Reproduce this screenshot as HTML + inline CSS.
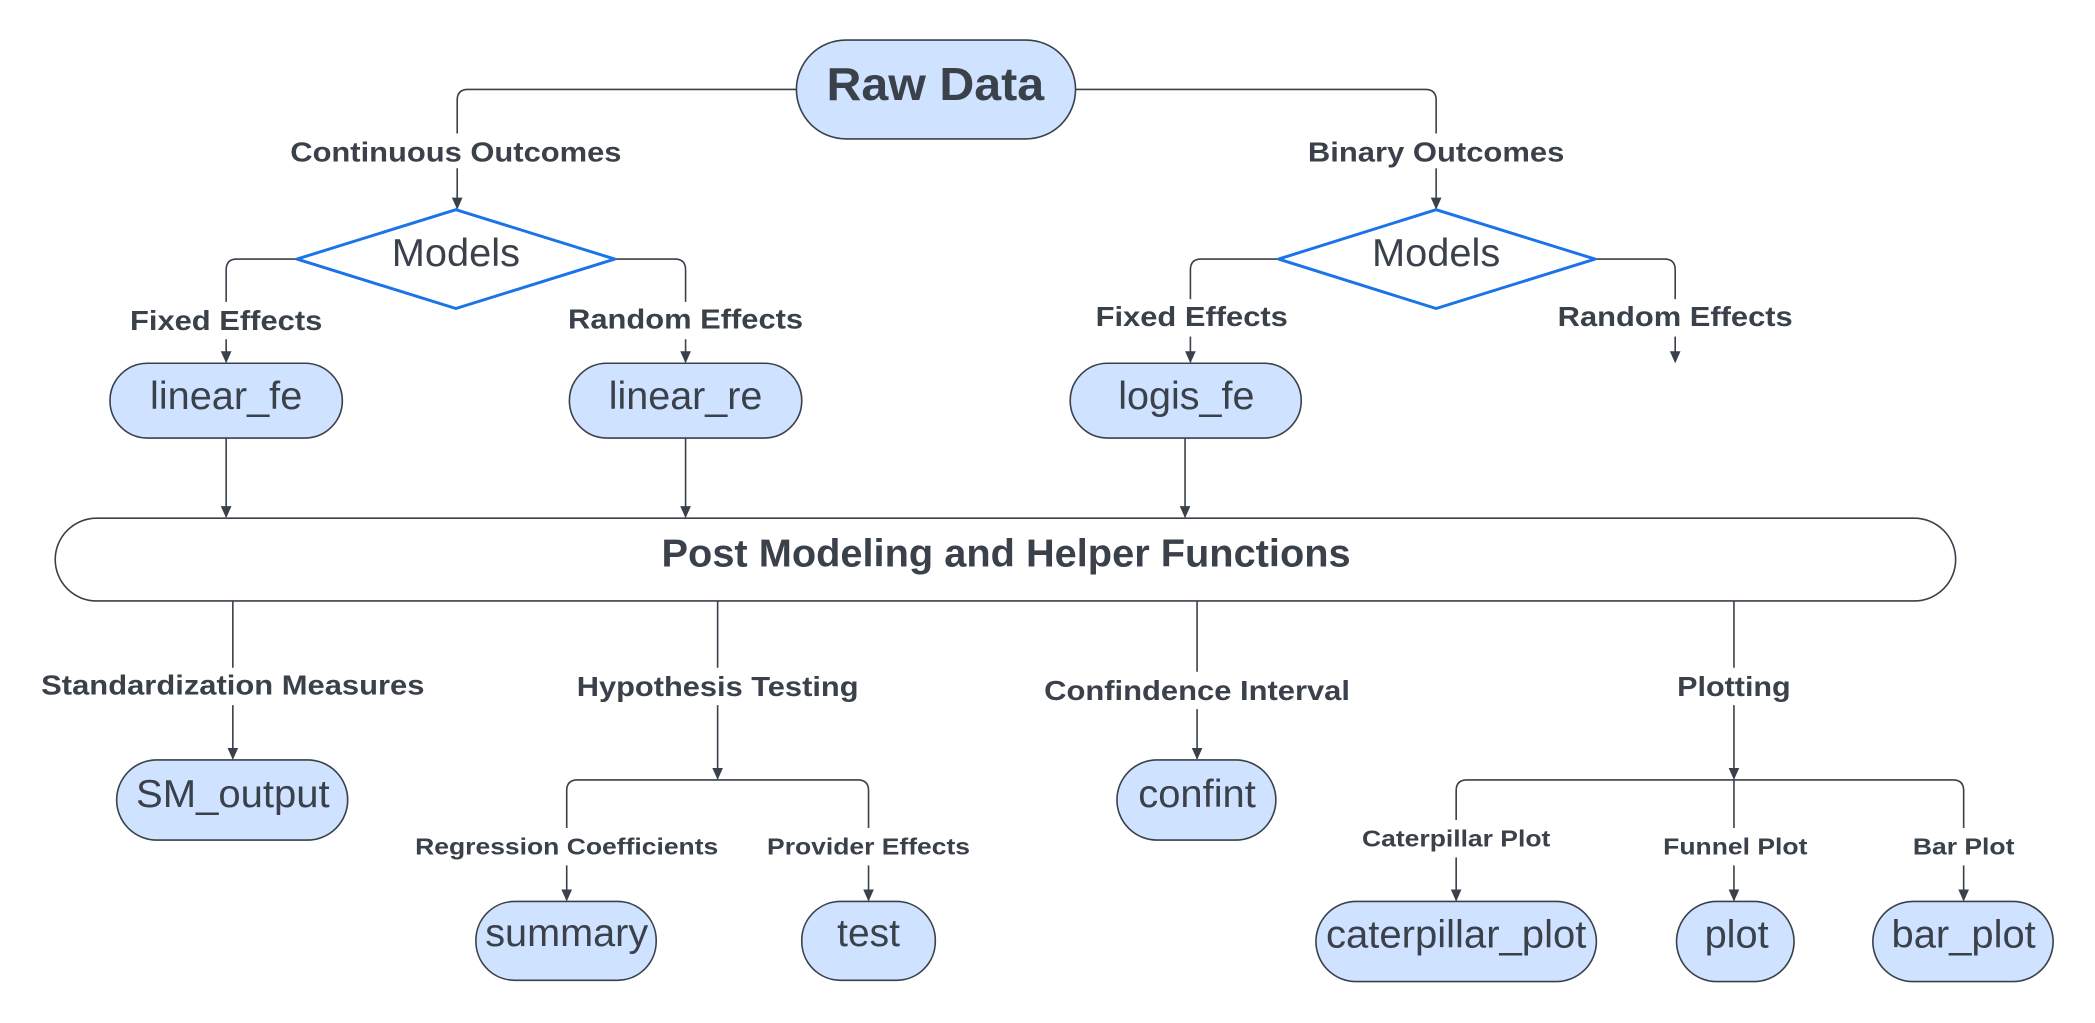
<!DOCTYPE html>
<html><head><meta charset="utf-8"><style>
html,body{margin:0;padding:0;background:#fff;}
svg{display:block}
text{font-family:"Liberation Sans",sans-serif;fill:#3a414a;text-anchor:middle;dominant-baseline:central}
.b{font-weight:bold}
</style></head><body>
<svg width="2095" height="1023" viewBox="0 0 1568 766" xmlns="http://www.w3.org/2000/svg">
<defs><marker id="a" markerWidth="10" markerHeight="10" refX="8" refY="5" orient="auto" markerUnits="userSpaceOnUse"><path d="M0,1 L9,5 L0,9 z" fill="#3a414a"/></marker></defs>
<g fill="none" stroke="#3a414a" stroke-width="1.2">
<path d="M596,67 H350 Q342,67 342,75 V100"/>
<path d="M342,126 V156" marker-end="url(#a)"/>
<path d="M805,67 H1067 Q1075,67 1075,75 V100"/>
<path d="M1075,126 V156" marker-end="url(#a)"/>
<path d="M222,194 H177 Q169,194 169,202 V226"/>
<path d="M169,254 V271" marker-end="url(#a)"/>
<path d="M460,194 H505 Q513,194 513,202 V226"/>
<path d="M513,254 V271" marker-end="url(#a)"/>
<path d="M957,194 H899 Q891,194 891,202 V224"/>
<path d="M891,252 V271" marker-end="url(#a)"/>
<path d="M1194,194 H1246 Q1254,194 1254,202 V224"/>
<path d="M1254,252 V271" marker-end="url(#a)"/>
<path d="M169,328 V387" marker-end="url(#a)"/>
<path d="M513,328 V387" marker-end="url(#a)"/>
<path d="M887,328 V387" marker-end="url(#a)"/>
<path d="M174,450 V500"/><path d="M174,528 V568" marker-end="url(#a)"/>
<path d="M537,450 V500"/><path d="M537,528 V583" marker-end="url(#a)"/>
<path d="M424,620 V592 Q424,584 432,584 H642 Q650,584 650,592 V620"/>
<path d="M424,648 V674" marker-end="url(#a)"/>
<path d="M650,648 V674" marker-end="url(#a)"/>
<path d="M896,450 V503"/><path d="M896,531 V568" marker-end="url(#a)"/>
<path d="M1298,450 V500"/><path d="M1298,528 V583" marker-end="url(#a)"/>
<path d="M1090,614 V592 Q1090,584 1098,584 H1462 Q1470,584 1470,592 V620"/>
<path d="M1298,584 V620"/>
<path d="M1090,642 V674" marker-end="url(#a)"/>
<path d="M1298,648 V674" marker-end="url(#a)"/>
<path d="M1470,648 V674" marker-end="url(#a)"/>
</g>
<g stroke="#3a414a" stroke-width="1.2" fill="#cfe2ff">
<rect x="596" y="30" width="209" height="74" rx="37"/>
<rect x="82" y="272" width="174" height="56" rx="28"/>
<rect x="426" y="272" width="174" height="56" rx="28"/>
<rect x="801" y="272" width="173" height="56" rx="28"/>
<rect x="41" y="388" width="1423" height="62" rx="31" fill="#fff"/>
<rect x="87" y="569" width="173" height="60" rx="30"/>
<rect x="356" y="675" width="135" height="59" rx="29"/>
<rect x="600" y="675" width="100" height="59" rx="29"/>
<rect x="836" y="569" width="119" height="60" rx="30"/>
<rect x="985" y="675" width="210" height="60" rx="30"/>
<rect x="1255" y="675" width="88" height="60" rx="30"/>
<rect x="1402" y="675" width="135" height="60" rx="30"/>
</g>
<g fill="#fff" stroke="#1a73e8" stroke-width="2.2" stroke-linejoin="round">
<path d="M222,194 L341,157 L460,194 L341,231 z"/>
<path d="M957,194 L1075,157 L1194,194 L1075,231 z"/>
</g>
<g lengthAdjust="spacingAndGlyphs">
<text x="700" y="63" class="b" font-size="35" textLength="163" lengthAdjust="spacingAndGlyphs">Raw Data</text>
<text x="341" y="114" class="b" font-size="21" textLength="248" lengthAdjust="spacingAndGlyphs">Continuous Outcomes</text>
<text x="1075" y="114" class="b" font-size="21" textLength="192" lengthAdjust="spacingAndGlyphs">Binary Outcomes</text>
<text x="341" y="190" font-size="29" textLength="96" lengthAdjust="spacingAndGlyphs">Models</text>
<text x="1075" y="190" font-size="29" textLength="96" lengthAdjust="spacingAndGlyphs">Models</text>
<text x="169" y="240" class="b" font-size="21" textLength="144" lengthAdjust="spacingAndGlyphs">Fixed Effects</text>
<text x="513" y="239" class="b" font-size="21" textLength="176" lengthAdjust="spacingAndGlyphs">Random Effects</text>
<text x="892" y="237" class="b" font-size="21" textLength="144" lengthAdjust="spacingAndGlyphs">Fixed Effects</text>
<text x="1254" y="237" class="b" font-size="21" textLength="176" lengthAdjust="spacingAndGlyphs">Random Effects</text>
<text x="169" y="297" font-size="29" textLength="114" lengthAdjust="spacingAndGlyphs">linear_fe</text>
<text x="513" y="297" font-size="29" textLength="115" lengthAdjust="spacingAndGlyphs">linear_re</text>
<text x="888" y="297" font-size="29" textLength="102" lengthAdjust="spacingAndGlyphs">logis_fe</text>
<text x="753" y="415" class="b" font-size="29" textLength="516" lengthAdjust="spacingAndGlyphs">Post Modeling and Helper Functions</text>
<text x="174" y="513" class="b" font-size="21" textLength="287" lengthAdjust="spacingAndGlyphs">Standardization Measures</text>
<text x="537" y="514" class="b" font-size="21" textLength="211" lengthAdjust="spacingAndGlyphs">Hypothesis Testing</text>
<text x="896" y="517" class="b" font-size="21" textLength="229" lengthAdjust="spacingAndGlyphs">Confindence Interval</text>
<text x="1298" y="514" class="b" font-size="21" textLength="85" lengthAdjust="spacingAndGlyphs">Plotting</text>
<text x="174" y="595" font-size="29" textLength="145" lengthAdjust="spacingAndGlyphs">SM_output</text>
<text x="896" y="595" font-size="29" textLength="88" lengthAdjust="spacingAndGlyphs">confint</text>
<text x="424" y="634" class="b" font-size="17" textLength="227" lengthAdjust="spacingAndGlyphs">Regression Coefficients</text>
<text x="650" y="634" class="b" font-size="17" textLength="152" lengthAdjust="spacingAndGlyphs">Provider Effects</text>
<text x="1090" y="628" class="b" font-size="17" textLength="141" lengthAdjust="spacingAndGlyphs">Caterpillar Plot</text>
<text x="1299" y="634" class="b" font-size="17" textLength="108" lengthAdjust="spacingAndGlyphs">Funnel Plot</text>
<text x="1470" y="634" class="b" font-size="17" textLength="76" lengthAdjust="spacingAndGlyphs">Bar Plot</text>
<text x="424" y="699" font-size="29" textLength="122" lengthAdjust="spacingAndGlyphs">summary</text>
<text x="650" y="699" font-size="29" textLength="47" lengthAdjust="spacingAndGlyphs">test</text>
<text x="1090" y="700" font-size="29" textLength="195" lengthAdjust="spacingAndGlyphs">caterpillar_plot</text>
<text x="1300" y="700" font-size="29" textLength="48" lengthAdjust="spacingAndGlyphs">plot</text>
<text x="1470" y="700" font-size="29" textLength="108" lengthAdjust="spacingAndGlyphs">bar_plot</text>
</g>
</svg>
</body></html>
